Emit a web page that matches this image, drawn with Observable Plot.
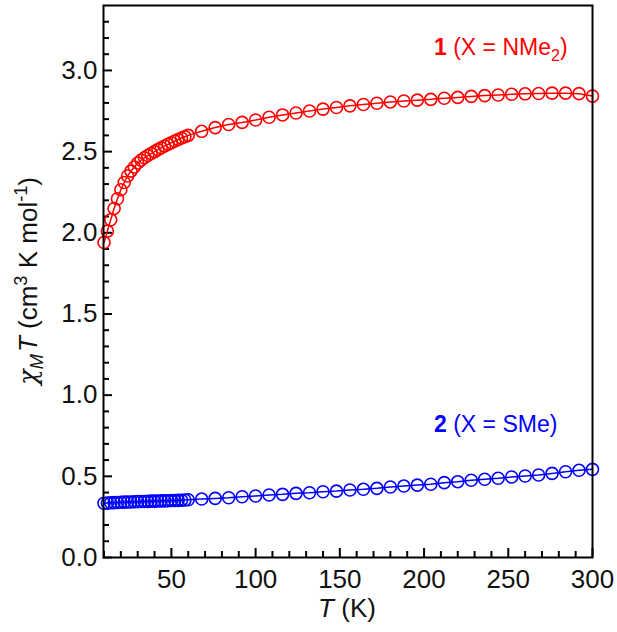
<!DOCTYPE html>
<html><head><meta charset="utf-8">
<script src="https://cdn.jsdelivr.net/npm/d3@7"></script>
<script src="https://cdn.jsdelivr.net/npm/@observablehq/plot@0.6"></script>
<style>
body{margin:0;background:#fff;}
#chart svg{font-family:"Liberation Sans",Arial,sans-serif;}
</style>
</head><body><div id="chart"></div>
<script>
// Temperature (K)
const temperature = [10,12,14,16,18,20,22,24,26,28,30,32,34,36,38,40,42,44,46,48,50,52,54,56,58,
  60,68,76,84,92,100,108,116,124,132,140,148,156,164,172,180,188,196,204,212,220,228,236,244,252,260,268,276,284,292,300];
// chi_M T for compound 1 (X = NMe2)
const chiT1 = [1.94,2.01,2.08,2.15,2.21,2.265,2.31,2.35,2.38,2.405,2.43,2.447,2.462,2.476,2.488,2.50,2.512,2.524,2.535,2.545,2.555,2.565,2.575,2.584,2.592,
  2.600,2.625,2.648,2.667,2.680,2.695,2.712,2.726,2.738,2.750,2.762,2.772,2.782,2.790,2.798,2.806,2.812,2.817,2.822,2.829,2.834,2.840,2.845,2.849,2.853,2.856,2.858,2.860,2.860,2.857,2.842];
// chi_M T for compound 2 (X = SMe)
const chiT2 = [0.334,0.336,0.337,0.338,0.339,0.340,0.341,0.342,0.342,0.343,0.344,0.345,0.345,0.346,0.347,0.347,0.348,0.349,0.349,0.350,0.351,0.351,0.352,0.353,0.354,
  0.356,0.360,0.364,0.368,0.374,0.379,0.385,0.389,0.395,0.399,0.405,0.409,0.416,0.420,0.426,0.434,0.440,0.446,0.451,0.461,0.467,0.476,0.482,0.488,0.496,0.502,0.508,0.518,0.528,0.537,0.543];

const xMajorTicks = [50,100,150,200,250,300];
const xMinorTicks = [10,20,30,40,60,70,80,90,110,120,130,140,160,170,180,190,210,220,230,240,260,270,280,290];
const yMajorTicks = [0,0.5,1.0,1.5,2.0,2.5,3.0];
const yMinorTicks = [0.1,0.2,0.3,0.4,0.6,0.7,0.8,0.9,1.1,1.2,1.3,1.4,1.6,1.7,1.8,1.9,2.1,2.2,2.3,2.4,2.6,2.7,2.8,2.9,3.1,3.2,3.3];

const series1 = temperature.map((t, i) => ({T: t, v: chiT1[i]}));
const series2 = temperature.map((t, i) => ({T: t, v: chiT2[i]}));

const red = "#ff0000", blue = "#0000ff";
const fs = 26;
const W = 617, H = 632, mL = 103, mR = 25, mT = 5, mB = 75;
const frameW = W - mL - mR, frameH = H - mT - mB;

const plot = Plot.plot({
  width: W, height: H,
  marginLeft: mL, marginRight: mR, marginTop: mT, marginBottom: mB,
  style: {fontFamily: '"Liberation Sans", Arial, sans-serif', background: "white"},
  x: {domain: [9.7, 300]},
  y: {domain: [0, 3.4]},
  marks: [
    // inward ticks (rules inset to a fixed pixel length)
    Plot.ruleX(xMajorTicks, {x: d => d, insetTop: frameH - 9, stroke: "black", strokeWidth: 2}),
    Plot.ruleX(xMinorTicks, {x: d => d, insetTop: frameH - 6, stroke: "black", strokeWidth: 2}),
    Plot.ruleY(yMajorTicks, {y: d => d, insetRight: frameW - 9, stroke: "black", strokeWidth: 2}),
    Plot.ruleY(yMinorTicks, {y: d => d, insetRight: frameW - 6, stroke: "black", strokeWidth: 2}),
    Plot.line(series1, {x: "T", y: "v", stroke: red, strokeWidth: 1.5}),
    Plot.dot(series1, {x: "T", y: "v", r: 6, stroke: red, strokeWidth: 1.6, fill: "none"}),
    Plot.line(series2, {x: "T", y: "v", stroke: blue, strokeWidth: 1.5}),
    Plot.dot(series2, {x: "T", y: "v", r: 6, stroke: blue, strokeWidth: 1.6, fill: "none"}),
    Plot.axisX({ticks: xMajorTicks, tickSize: 0, tickPadding: 12, fontSize: fs, label: null, fill: "#111"}),
    Plot.axisY({ticks: yMajorTicks, tickSize: 0, tickPadding: 6, fontSize: fs, label: null, tickFormat: d3.format(".1f"), fill: "#111"}),
    Plot.frame({stroke: "black", strokeWidth: 2})
  ]
});
document.getElementById("chart").appendChild(plot);

const svg = d3.select(plot);
// x title
const xt = svg.append("text").attr("x", 347).attr("y", 617).attr("text-anchor", "middle")
  .attr("font-size", fs).attr("fill", "#111");
xt.append("tspan").attr("font-style", "italic").text("T");
xt.append("tspan").text(" (K)");
// y title
const yt = svg.append("text").attr("transform", "translate(37,281) rotate(-90)").attr("text-anchor", "middle")
  .attr("font-size", fs).attr("fill", "#111");
yt.append("tspan").attr("font-style", "italic").attr("font-family", '"DejaVu Serif", serif').text("χ");
yt.append("tspan").attr("font-style", "italic").attr("font-size", fs * 0.7).attr("dy", 6).text("M");
yt.append("tspan").attr("font-style", "italic").attr("dy", -6).attr("dx", 2).text("T");
yt.append("tspan").text(" (cm");
yt.append("tspan").attr("font-size", fs * 0.7).attr("dy", -10).text("3");
yt.append("tspan").attr("dy", 10).text(" K mol");
yt.append("tspan").attr("font-size", fs * 0.7).attr("dy", -10).text("-1");
yt.append("tspan").attr("dy", 10).text(")");
// annotations
const a1 = svg.append("text").attr("x", 434).attr("y", 55).attr("text-anchor", "start").attr("font-size", 23).attr("fill", red);
a1.append("tspan").attr("font-weight", "bold").text("1");
a1.append("tspan").text(" (X = NMe");
a1.append("tspan").attr("font-size", 16).attr("dy", 6).text("2");
a1.append("tspan").attr("dy", -6).text(")");
const a2 = svg.append("text").attr("x", 434).attr("y", 432).attr("text-anchor", "start").attr("font-size", 23).attr("fill", blue);
a2.append("tspan").attr("font-weight", "bold").text("2");
a2.append("tspan").text(" (X = SMe)");
</script>
</body></html>
